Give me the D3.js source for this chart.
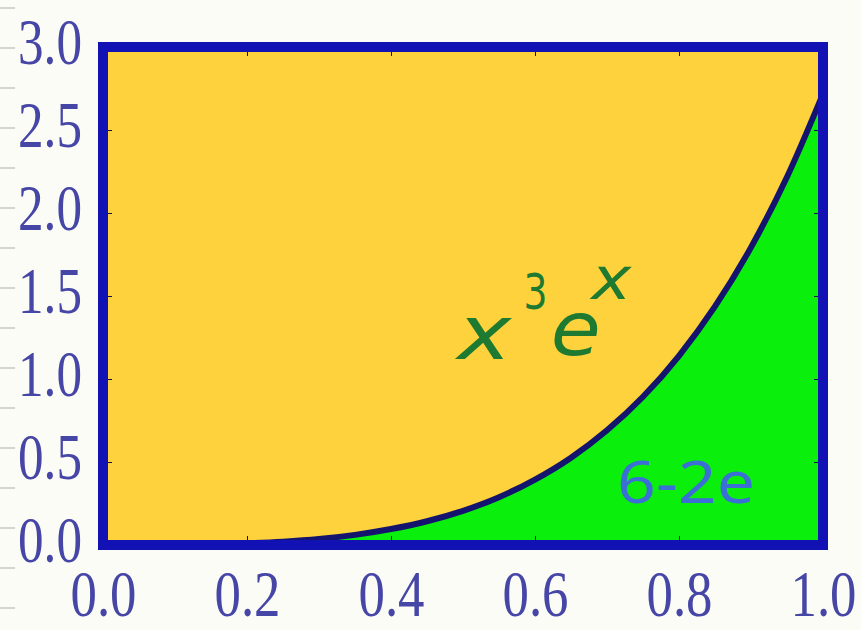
<!DOCTYPE html>
<html>
<head>
<meta charset="utf-8">
<script src="https://cdn.jsdelivr.net/npm/d3@7"></script>
<style>
  body { margin: 0; background: #fcfcf7; }
  svg { display: block; }
  .tick line { stroke: #101050; }
  .tick text { font-family: "Liberation Serif", serif; fill: #4646a6; }
</style>
</head>
<body>
<script>
// values: curve x^3 e^x between 0 and 1
var xs = [0, 0.05, 0.1, 0.15, 0.2, 0.25, 0.3, 0.35, 0.4, 0.45, 0.5,
          0.55, 0.6, 0.65, 0.7, 0.75, 0.8, 0.85, 0.9, 0.95, 1.0];
var ys = [0, 0.0001, 0.001, 0.004, 0.01, 0.02, 0.036, 0.061, 0.096, 0.143, 0.206,
          0.288, 0.394, 0.526, 0.691, 0.893, 1.14, 1.437, 1.793, 2.217, 2.718];

var xTicks = [0, 0.2, 0.4, 0.6, 0.8, 1.0];
var yTicks = [0, 0.5, 1.0, 1.5, 2.0, 2.5, 3.0];
var yMinor = d3.range(0, 3.0001, 0.05);

var data = xs.map(function(d, i) { return {x: d, y: ys[i]}; });

var width = 861, height = 630;

var svg = d3.select("body").append("svg")
    .attr("width", width)
    .attr("height", height);

// faint notebook lines at the left edge
svg.append("g").selectAll("line")
    .data(d3.range(8, height, 40))
  .enter().append("line")
    .attr("x1", 0).attr("x2", 15)
    .attr("y1", function(d) { return d; })
    .attr("y2", function(d) { return d; })
    .attr("stroke", "#c9c9c4")
    .attr("stroke-width", 1.5);

var x = d3.scaleLinear().domain([0, 1]).range([103, 823]);
var y = d3.scaleLinear().domain([0, 3]).range([545, 47]);

// yellow background of the plot
svg.append("rect")
    .attr("x", x(0)).attr("y", y(3))
    .attr("width", x(1) - x(0)).attr("height", y(0) - y(3))
    .attr("fill", "#fdd23d");

var area = d3.area()
    .x(function(d) { return x(d.x); })
    .y0(y(0))
    .y1(function(d) { return y(d.y); })
    .curve(d3.curveMonotoneX);

var line = d3.line()
    .x(function(d) { return x(d.x); })
    .y(function(d) { return y(d.y); })
    .curve(d3.curveMonotoneX);

svg.append("clipPath")
    .attr("id", "clip")
  .append("rect")
    .attr("x", x(0)).attr("y", y(3))
    .attr("width", x(1) - x(0)).attr("height", y(0) - y(3));

svg.append("path")
    .datum(data)
    .attr("clip-path", "url(#clip)")
    .attr("fill", "#0af00c")
    .attr("d", area);

svg.append("path")
    .datum(data)
    .attr("clip-path", "url(#clip)")
    .attr("fill", "none")
    .attr("stroke", "#14146e")
    .attr("stroke-width", 6)
    .attr("d", line);

// ticks on all four sides, pointing inward
var fmt = d3.format(".1f");

svg.append("g")
    .attr("transform", "translate(0," + y(0) + ")")
    .call(d3.axisBottom(x).tickValues(xTicks).tickSize(-9).tickFormat(fmt))
    .call(function(g) { g.select(".domain").remove(); })
    .selectAll("text")
    .attr("y", 71).attr("dy", null)
    .attr("font-size", 66)
    .attr("textLength", 66)
    .attr("lengthAdjust", "spacingAndGlyphs");

svg.append("g")
    .attr("transform", "translate(0," + y(3) + ")")
    .call(d3.axisTop(x).tickValues(xTicks).tickSize(-9).tickFormat(""))
    .call(function(g) { g.select(".domain").remove(); });

svg.append("g")
    .attr("transform", "translate(" + x(0) + ",0)")
    .call(d3.axisLeft(y).tickValues(yMinor).tickSize(-5).tickFormat(""))
    .call(function(g) { g.select(".domain").remove(); });

svg.append("g")
    .attr("transform", "translate(" + x(0) + ",0)")
    .call(d3.axisLeft(y).tickValues(yTicks).tickSize(-9).tickFormat(fmt))
    .call(function(g) { g.select(".domain").remove(); })
    .selectAll("text")
    .attr("x", -21).attr("dy", null).attr("y", 16)
    .attr("font-size", 66)
    .attr("textLength", 64)
    .attr("lengthAdjust", "spacingAndGlyphs");

svg.append("g")
    .attr("transform", "translate(" + x(1) + ",0)")
    .call(d3.axisRight(y).tickValues(yTicks).tickSize(-9).tickFormat(""))
    .call(function(g) { g.select(".domain").remove(); });

// blue frame
svg.append("rect")
    .attr("x", x(0)).attr("y", y(3))
    .attr("width", x(1) - x(0)).attr("height", y(0) - y(3))
    .attr("fill", "none")
    .attr("stroke", "#1212b4")
    .attr("stroke-width", 10);

// handwritten annotations, placed in data coordinates
var curveLabel = [
  {t: "x", x: 0.492, y: 1.12, size: 74, len: 54, italic: true},
  {t: "3", x: 0.584, y: 1.42, size: 50, len: 24, italic: false},
  {t: "e", x: 0.622, y: 1.145, size: 74, len: 50, italic: true},
  {t: "x", x: 0.678, y: 1.48, size: 58, len: 40, italic: true}
];

svg.append("g").selectAll("text")
    .data(curveLabel)
  .enter().append("text")
    .attr("x", function(d) { return x(d.x); })
    .attr("y", function(d) { return y(d.y); })
    .attr("font-family", "DejaVu Sans, sans-serif")
    .attr("font-style", function(d) { return d.italic ? "oblique" : "normal"; })
    .attr("font-size", function(d) { return d.size; })
    .attr("textLength", function(d) { return d.len; })
    .attr("lengthAdjust", "spacingAndGlyphs")
    .attr("fill", "#1e7a30")
    .text(function(d) { return d.t; });

svg.append("text")
    .attr("x", x(0.714))
    .attr("y", y(0.253))
    .attr("font-family", "Noto Sans, sans-serif")
    .attr("font-size", 58)
    .attr("textLength", 138)
    .attr("lengthAdjust", "spacingAndGlyphs")
    .attr("fill", "#3b6fd6")
    .text("6-2e");
</script>
</body>
</html>
